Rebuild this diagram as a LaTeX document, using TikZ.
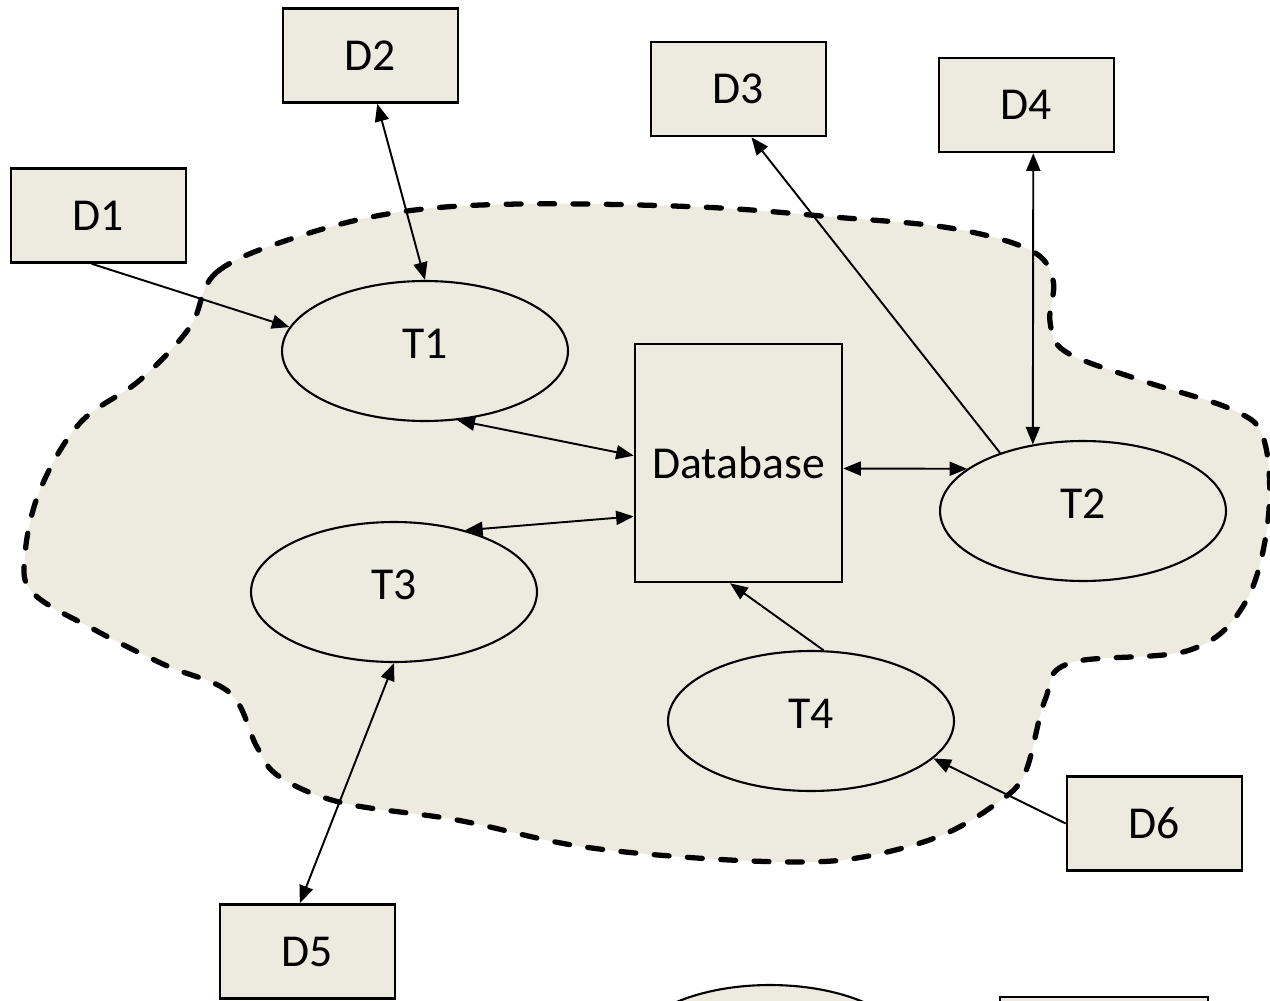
\documentclass[tikz,border=0pt]{standalone}
\usepackage{fontspec}
\setmainfont{Carlito}
\usetikzlibrary{arrows.meta,shapes.geometric}
\definecolor{paper}{RGB}{237,235,224}

\begin{document}
\begin{tikzpicture}[
		x=0.02cm, y=-0.02cm,
		every node/.style={font=\fontsize{26}{31}\selectfont},
		store/.style={draw, line width=1.5pt, fill=paper, inner sep=0pt,
			minimum width=3.5cm, minimum height=1.88cm},
		task/.style={draw, ellipse, line width=1.2pt, fill=paper, inner sep=0pt,
			minimum width=5.72cm, minimum height=2.8cm, text depth=0.3cm},
		base/.style={draw, line width=1.5pt, fill=paper, inner sep=0pt,
			minimum width=4.14cm, minimum height=4.76cm},
		blob/.style={draw, fill=paper, line width=3pt, line cap=round,
			dash pattern=on 8.5pt off 10.5pt},
		link/.style={line width=1.1pt, -{Triangle[length=10pt,width=8pt]}},
		twoway/.style={link, {Triangle[length=10pt,width=8pt]}-{Triangle[length=10pt,width=8pt]}}
	]
	\clip (0,0) rectangle (1270,1000) ;

	\draw [blob] plot [smooth cycle, tension=0.6] coordinates {
		(190,327) (217,272) (300,236) (400,212) (520,204) (700,207) (833,217)
		(950,228) (1030,250) (1053,280) (1050,322) (1066,352) (1140,380)
		(1233,410) (1264,440) (1268,520) (1245,603) (1190,650) (1070,663)
		(1045,700) (1025,773) (997,803) (940,836) (863,857) (794,862) (683,857)
		(572,845) (457,820) (343,803) (280,777) (257,747) (230,693) (165,665)
		(95,630) (33,593) (25,555) (40,490) (80,423) (140,380)} ;

	\node [store] (D1) at (98.5,215.5)  {D1} ;
	\node [store] (D2) at (370.5,55.5)  {D2} ;
	\node [store] (D3) at (738.5,89)    {D3} ;
	\node [store] (D4) at (1026.5,105)  {D4} ;
	\node [store] (D5) at (307.5,951.5) {D5} ;
	\node [store] (D6) at (1154.5,823.5) {D6} ;
	\node [store, minimum width=4.16cm] (Dcut) at (1104,1044) {} ;

	\node [task] (T1) at (425,351)  {T1} ;
	\node [task] (T2) at (1083,511) {T2} ;
	\node [task] (T3) at (394,592)  {T3} ;
	\node [task] (T4) at (811,721)  {T4} ;
	\node [task] (Tcut) at (770,1055) {} ;

	\node [base] (DB) at (738.5,463) {Database} ;

	\draw [link]   (D1.-98)  -- (T1.170) ;
	\draw [twoway] (D2.-82)  -- (T1.north) ;
	\draw [twoway] (T1.-65)  -- (DB.176) ;
	\draw [twoway] (T3.41)   -- (DB.207) ;
	\draw [twoway] (DB.-3)   -- (T2.160) ;
	\draw [link]   (T2.145)  -- (D3.-75) ;
	\draw [twoway] (T2.127.3) -- (D4.-82) ;
	\draw [link]   (T4.80)   -- (DB.-94) ;
	\draw [twoway] (D5.99)   -- (T3.south) ;
	\draw [link]   (D6.west) -- (T4.-17) ;
\end{tikzpicture}
\end{document}
